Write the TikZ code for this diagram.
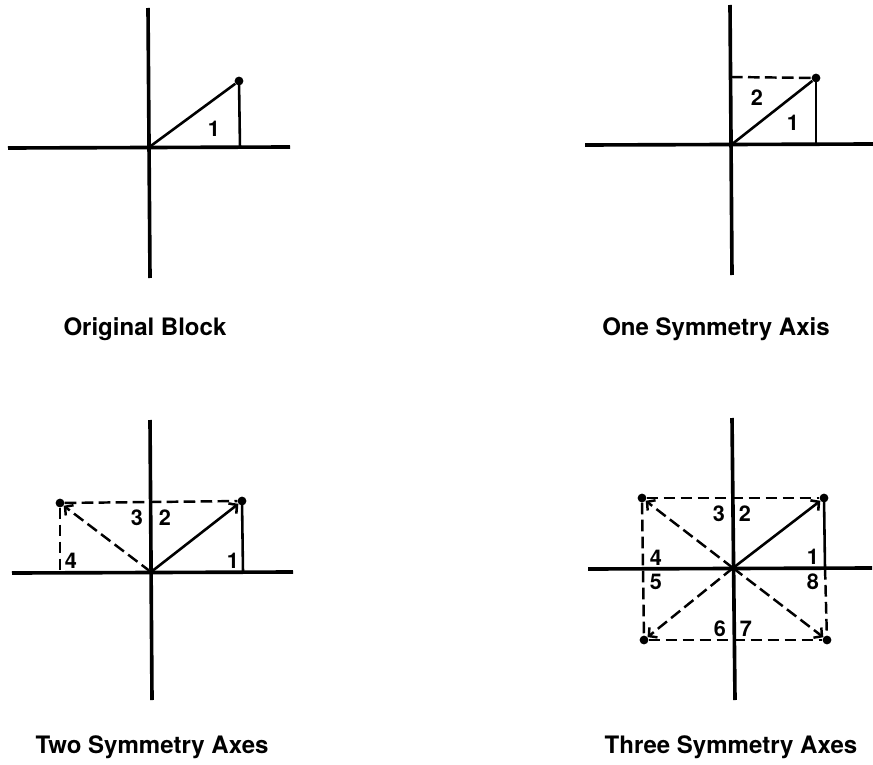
\documentclass[tikz,border=0pt]{standalone}
\usepackage{fontspec}
\setmainfont{TeX Gyre Heros}
\usetikzlibrary{arrows.meta}

\begin{document}
\begin{tikzpicture}[
    x=0.03cm, y=-0.03cm,
    axis/.style={line width=3.1pt},
    side/.style={line width=2.2pt},
    mirror/.style={line width=2.1pt, dash pattern=on 10pt off 4.5pt},
    ray/.style={-{Straight Barb[length=5pt, width=11pt]}},
    dot/.style={circle, fill, inner sep=0pt, minimum size=7.5pt},
    num/.style={font=\bfseries\fontsize{18.5}{22}\selectfont, inner sep=0pt},
    caption/.style={font=\bfseries\fontsize{20.5}{24}\selectfont, inner sep=0pt, anchor=base},
]
\useasboundingbox (0,0) rectangle (873,765);

%% ORIGINAL BLOCK
    % axes
    \coordinate (o1) at (148,148);
    \coordinate (n1) at (148,8);
    \coordinate (s1) at (150,278);
    \coordinate (w1) at (8,148);
    \coordinate (e1) at (290,147);
    \coordinate (f1) at (240,148);
    \draw[axis] (n1) -- (s1);
    \draw[axis] (w1) -- (e1);

    % block
    \node[dot] (d1) at (239,81) {};
    \draw[side] (o1) -- (d1);
    \draw[side] (d1.center) -- (f1);
    \node[num] (one1) at (214,129) {1};

    \node[caption] (cap1) at (145,335) {Original Block};

%% ONE SYMMETRY AXIS
    % axes
    \coordinate (o2) at (731,145);
    \coordinate (n2) at (730,5);
    \coordinate (s2) at (732,275);
    \coordinate (w2) at (585,145);
    \coordinate (e2) at (873,144);
    \coordinate (f2) at (816,145);
    \coordinate (t2) at (731,77);
    \draw[axis] (n2) -- (s2);
    \draw[axis] (w2) -- (e2);

    % block and its mirror
    \node[dot] (d2) at (816,78) {};
    \draw[side] (o2) -- (d2);
    \draw[side] (d2.center) -- (f2);
    \draw[mirror] (t2) -- (d2);
    \node[num] (two2) at (757,98) {2};
    \node[num] (one2) at (793,123) {1};

    \node[caption] (cap2) at (716,335) {One Symmetry Axis};

%% TWO SYMMETRY AXES
    % axes
    \coordinate (o3) at (151,572);
    \coordinate (n3) at (150,420);
    \coordinate (s3) at (152,700);
    \coordinate (w3) at (12,573);
    \coordinate (e3) at (293,572);
    \coordinate (f3a) at (243,572);
    \coordinate (f3b) at (60,573);
    \draw[axis] (n3) -- (s3);
    \draw[axis] (w3) -- (e3);

    % block and its mirrors
    \node[dot] (d3a) at (242,501) {};
    \node[dot] (d3b) at (60,503) {};
    \draw[side, ray] (o3) -- (d3a);
    \draw[side] (d3a.center) -- (f3a);
    \draw[mirror] (d3b) -- (d3a);
    \draw[mirror] (d3b) -- (f3b);
    \draw[mirror, ray] (o3) -- (d3b);
    \node[num] (three3) at (137,518) {3};
    \node[num] (two3) at (165,518) {2};
    \node[num] (four3) at (71,561) {4};
    \node[num] (one3) at (233,561) {1};

    \node[caption] (cap3) at (152,753) {Two Symmetry Axes};

%% THREE SYMMETRY AXES
    % axes
    \coordinate (o4) at (733,568);
    \coordinate (n4) at (732,418);
    \coordinate (s4) at (735,700);
    \coordinate (w4) at (588,569);
    \coordinate (e4) at (872,568);
    \coordinate (f4a) at (825,568);
    \draw[axis] (n4) -- (s4);
    \draw[axis] (w4) -- (e4);

    % block and its mirrors
    \node[dot] (d4a) at (824,498) {};
    \node[dot] (d4b) at (642,498) {};
    \node[dot] (d4c) at (644,640) {};
    \node[dot] (d4d) at (827,640) {};
    \draw[side, ray] (o4) -- (d4a);
    \draw[side] (d4a.center) -- (f4a);
    \draw[mirror] (d4b) -- (d4a);
    \draw[mirror] (d4b) -- (d4c);
    \draw[mirror] (d4c) -- (d4d);
    \draw[mirror] (f4a) -- (d4d);
    \draw[mirror, ray] (o4) -- (d4b);
    \draw[mirror, ray] (o4) -- (d4c);
    \draw[mirror, ray] (o4) -- (d4d);
    \node[num] (three4) at (719,514) {3};
    \node[num] (two4) at (745,514) {2};
    \node[num] (four4) at (656,558) {4};
    \node[num] (five4) at (656,582) {5};
    \node[num] (one4) at (813,557) {1};
    \node[num] (eight4) at (813,582) {8};
    \node[num] (six4) at (720,629) {6};
    \node[num] (seven4) at (746,629) {7};

    \node[caption] (cap4) at (731,753) {Three Symmetry Axes};

\end{tikzpicture}
\end{document}
